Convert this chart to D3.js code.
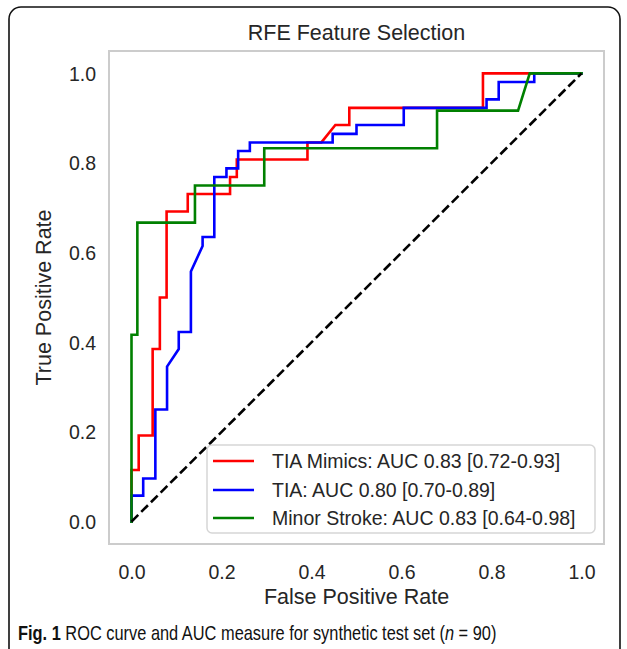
<!DOCTYPE html>
<html>
<head>
<meta charset="utf-8">
<script src="https://cdn.jsdelivr.net/npm/d3@7"></script>
<style>
  html, body { margin: 0; padding: 0; background: #ffffff; }
  svg { display: block; }
</style>
</head>
<body>
<svg id="chart" width="627" height="649"></svg>
<script>
// ---- data ----
const titleText = "RFE Feature Selection";
const xLabel = "False Positive Rate";
const yLabel = "True Positive Rate";
const tickValues = [0.0, 0.2, 0.4, 0.6, 0.8, 1.0];
const seriesNames = ["TIA Mimics: AUC 0.83 [0.72-0.93]", "TIA: AUC 0.80 [0.70-0.89]", "Minor Stroke: AUC 0.83 [0.64-0.98]"];
const seriesColors = ["#ff0000", "#0000ff", "#008000"];

const mimicsFpr = [0, 0, 0.016, 0.016, 0.047, 0.047, 0.063, 0.063, 0.078, 0.078, 0.125, 0.125, 0.219, 0.219, 0.234, 0.234, 0.391, 0.391, 0.422, 0.453, 0.484, 0.484, 0.781, 0.781, 1];
const mimicsTpr = [0, 0.115, 0.115, 0.192, 0.192, 0.385, 0.385, 0.5, 0.5, 0.692, 0.692, 0.731, 0.731, 0.769, 0.769, 0.808, 0.808, 0.846, 0.846, 0.885, 0.885, 0.923, 0.923, 1, 1];

const tiaFpr = [0, 0, 0.026, 0.026, 0.053, 0.053, 0.079, 0.079, 0.105, 0.105, 0.132, 0.132, 0.158, 0.158, 0.184, 0.184, 0.211, 0.211, 0.237, 0.237, 0.263, 0.263, 0.447, 0.447, 0.5, 0.5, 0.605, 0.605, 0.789, 0.789, 0.816, 0.816, 0.895, 0.895, 1];
const tiaTpr = [0, 0.058, 0.058, 0.096, 0.096, 0.25, 0.25, 0.346, 0.385, 0.423, 0.423, 0.558, 0.615, 0.635, 0.635, 0.769, 0.769, 0.788, 0.788, 0.827, 0.827, 0.846, 0.846, 0.865, 0.865, 0.885, 0.885, 0.923, 0.923, 0.942, 0.942, 0.981, 0.981, 1, 1];

const strokeFpr = [0, 0, 0.013, 0.013, 0.141, 0.141, 0.295, 0.295, 0.679, 0.679, 0.859, 0.885, 1];
const strokeTpr = [0, 0.417, 0.417, 0.667, 0.667, 0.75, 0.75, 0.833, 0.833, 0.917, 0.917, 1, 1];

const chanceFpr = [0, 1];
const chanceTpr = [0, 1];

const captionBold = "Fig. 1";
const captionRest = " ROC curve and AUC measure for synthetic test set (";
const captionN = "n";
const captionEnd = " = 90)";

// ---- build ----
const series = [
  { name: seriesNames[0], color: seriesColors[0], fpr: mimicsFpr, tpr: mimicsTpr },
  { name: seriesNames[1], color: seriesColors[1], fpr: tiaFpr, tpr: tiaTpr },
  { name: seriesNames[2], color: seriesColors[2], fpr: strokeFpr, tpr: strokeTpr }
];

const svg = d3.select("#chart");
const frame = { left: 109, right: 604, top: 51, bottom: 544 };

const x = d3.scaleLinear().domain([-0.05, 1.05]).range([frame.left, frame.right]);
const y = d3.scaleLinear().domain([-0.05, 1.05]).range([frame.bottom, frame.top]);

const fontFamily = "Liberation Sans, Arial, Helvetica, sans-serif";
const textColor = "#262626";

// outer rounded border
svg.append("rect")
  .attr("x", 9).attr("y", 7)
  .attr("width", 611).attr("height", 680)
  .attr("rx", 12).attr("ry", 12)
  .attr("fill", "none").attr("stroke", "#111").attr("stroke-width", 1.6);

// title
svg.append("text")
  .attr("x", (frame.left + frame.right) / 2).attr("y", 40)
  .attr("text-anchor", "middle")
  .attr("font-family", fontFamily).attr("font-size", 21.5)
  .attr("fill", textColor)
  .text(titleText);

// axes (ticks without tick lines)
const xAxis = d3.axisBottom(x).tickValues(tickValues).tickFormat(d3.format(".1f")).tickSize(0).tickPadding(0);
const yAxis = d3.axisLeft(y).tickValues(tickValues).tickFormat(d3.format(".1f")).tickSize(0).tickPadding(0);

const gx = svg.append("g").attr("transform", `translate(0,${frame.bottom})`).call(xAxis);
gx.select(".domain").remove();
gx.selectAll("text")
  .attr("y", 21).attr("dy", "0.71em")
  .attr("font-family", fontFamily).attr("font-size", 19.5).attr("fill", textColor);

const gy = svg.append("g").attr("transform", `translate(${frame.left},0)`).call(yAxis);
gy.select(".domain").remove();
gy.selectAll("text")
  .attr("x", -13).attr("dy", "0.35em")
  .attr("font-family", fontFamily).attr("font-size", 19.5).attr("fill", textColor);

// axis labels
svg.append("text")
  .attr("x", (frame.left + frame.right) / 2).attr("y", 604)
  .attr("text-anchor", "middle")
  .attr("font-family", fontFamily).attr("font-size", 21.5).attr("fill", textColor)
  .text(xLabel);

svg.append("text")
  .attr("transform", `translate(51,${(frame.top + frame.bottom) / 2}) rotate(-90)`)
  .attr("text-anchor", "middle")
  .attr("font-family", fontFamily).attr("font-size", 21.5).attr("fill", textColor)
  .text(yLabel);

// clip
svg.append("clipPath").attr("id", "plotclip")
  .append("rect").attr("x", frame.left).attr("y", frame.top)
  .attr("width", frame.right - frame.left).attr("height", frame.bottom - frame.top);

const plot = svg.append("g").attr("clip-path", "url(#plotclip)");

const line = d3.line().x(d => x(d[0])).y(d => y(d[1]));

series.forEach(s => {
  const pts = s.fpr.map((v, i) => [v, s.tpr[i]]);
  plot.append("path")
    .datum(pts)
    .attr("d", line)
    .attr("fill", "none")
    .attr("stroke", s.color)
    .attr("stroke-width", 2.6)
    .attr("stroke-linejoin", "miter")
    .attr("stroke-linecap", "square");
});

// chance diagonal
plot.append("path")
  .datum(chanceFpr.map((v, i) => [v, chanceTpr[i]]))
  .attr("d", line)
  .attr("fill", "none")
  .attr("stroke", "#000")
  .attr("stroke-width", 2.6)
  .attr("stroke-dasharray", "9.5,4.2");

// axes frame
svg.append("rect")
  .attr("x", frame.left).attr("y", frame.top)
  .attr("width", frame.right - frame.left).attr("height", frame.bottom - frame.top)
  .attr("fill", "none").attr("stroke", "#cccccc").attr("stroke-width", 2);

// legend
const legend = svg.append("g");
legend.append("rect")
  .attr("x", 207).attr("y", 445)
  .attr("width", 388).attr("height", 88)
  .attr("rx", 5).attr("ry", 5)
  .attr("fill", "#ffffff").attr("fill-opacity", 0.85)
  .attr("stroke", "#d6d6d6").attr("stroke-width", 1.5);

const rowY = [461, 490, 518];
series.forEach((s, i) => {
  legend.append("line")
    .attr("x1", 213).attr("x2", 254)
    .attr("y1", rowY[i]).attr("y2", rowY[i])
    .attr("stroke", s.color).attr("stroke-width", 2.6);
  legend.append("text")
    .attr("x", 272).attr("y", rowY[i]).attr("dy", "0.35em")
    .attr("font-family", fontFamily).attr("font-size", 19.5).attr("fill", textColor)
    .text(s.name);
});

// caption (condensed face in the original: scale horizontally to its measured width)
const capG = svg.append("g");
const cap = capG.append("text")
  .attr("x", 0).attr("y", 0)
  .attr("font-family", "Liberation Sans Narrow, Arial Narrow, Liberation Sans, sans-serif")
  .attr("font-size", 20).attr("fill", "#111");
cap.append("tspan").attr("font-weight", "bold").text(captionBold);
cap.append("tspan").text(captionRest);
cap.append("tspan").attr("font-style", "italic").text(captionN);
cap.append("tspan").text(captionEnd);
const natural = cap.node().getBBox().width || 582;
const sx = Math.min(1, 479 / natural);
capG.attr("transform", `translate(18,640) scale(${sx},1)`);
</script>
</body>
</html>
